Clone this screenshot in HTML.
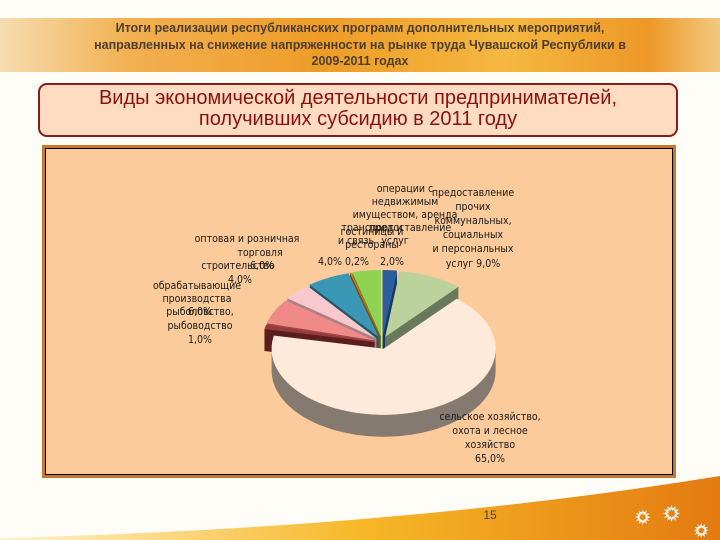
<!DOCTYPE html>
<html><head><meta charset="utf-8"><style>
body{margin:0;width:720px;height:540px;overflow:hidden;background:#fffdf8;font-family:"Liberation Sans",sans-serif;position:relative}
.hdr{position:absolute;left:0;top:18px;width:720px;height:54px;background:linear-gradient(90deg,#f5dcb0 0%,#f2b050 18%,#ee9c28 45%,#f4b840 70%,#ee9828 90%,#f2c880 100%)}
.hdr div{text-align:center;font-weight:bold;font-size:12.5px;color:#4e3e30;line-height:16.5px;padding-top:2px}
.tbox{position:absolute;left:38px;top:83px;width:636px;height:47px;background:#fddcc2;border:2px solid #8b1a1a;border-radius:9px;text-align:center;color:#8b1010;font-size:20px;line-height:21px;padding-top:3px}
.frame{position:absolute;left:42px;top:145px;width:628px;height:327px;background:#fccb9b;border:3px solid #c8782a;box-shadow:inset 0 0 0 1px #000}
svg{position:absolute;left:0;top:0}
.lbl{font-family:"DejaVu Sans Condensed","DejaVu Sans",sans-serif;font-size:10.5px;fill:#1a1a1a}
</style></head><body>
<div class="hdr"><div>Итоги реализации республиканских программ дополнительных мероприятий,<br>направленных на снижение напряженности на рынке труда Чувашской Республики в<br>2009-2011 годах</div></div>
<div class="tbox">Виды экономической деятельности предпринимателей,<br>получивших субсидию в 2011 году</div>
<div class="frame"></div>
<svg width="720" height="540" id="chart">
<defs><linearGradient id="sw" x1="0" x2="1" y1="0" y2="0"><stop offset="0" stop-color="#fff3d0"/><stop offset="0.5" stop-color="#f6b828"/><stop offset="1" stop-color="#e47a10"/></linearGradient></defs>
<path d="M0,538 Q400,528 720,476 L720,540 L0,540 Z" fill="url(#sw)"/>
<text x="490" y="519" font-size="12" fill="#444" text-anchor="middle">15</text>
<text x="636" y="523" font-size="16" fill="none" stroke="#fff" stroke-width="1.1">✹</text>
<text x="664" y="520" font-size="18" fill="none" stroke="#fff" stroke-width="1.1">✹</text>
<text x="695" y="536" font-size="15" fill="none" stroke="#fff" stroke-width="1.1">✹</text>
<g id="pie"></g>
<g class="lbl">
<text x="405" y="192" text-anchor="middle">операции с</text>
<text x="405" y="205" text-anchor="middle">недвижимым</text>
<text x="405" y="218" text-anchor="middle">имуществом, аренда</text>
<text x="372" y="231" text-anchor="middle">транспорт и</text>
<text x="356" y="244" text-anchor="middle">и связь</text>
<text x="330" y="265" text-anchor="middle">4,0%</text>
<text x="372" y="235" text-anchor="middle">гостиницы и</text>
<text x="372" y="248" text-anchor="middle">рестораны</text>
<text x="357" y="265" text-anchor="middle">0,2%</text>
<text x="410" y="231" text-anchor="middle">предоставление</text>
<text x="395" y="244" text-anchor="middle">услуг</text>
<text x="392" y="265" text-anchor="middle">2,0%</text>
<text x="473" y="196" text-anchor="middle">предоставление</text>
<text x="473" y="210" text-anchor="middle">прочих</text>
<text x="473" y="224" text-anchor="middle">коммунальных,</text>
<text x="473" y="238" text-anchor="middle">социальных</text>
<text x="473" y="252" text-anchor="middle">и персональных</text>
<text x="473" y="267" text-anchor="middle">услуг 9,0%</text>
<text x="247" y="242" text-anchor="middle">оптовая и розничная</text>
<text x="260" y="256" text-anchor="middle">торговля</text>
<text x="262" y="269" text-anchor="middle">6,0%</text>
<text x="238" y="269" text-anchor="middle">строительство</text>
<text x="240" y="283" text-anchor="middle">4,0%</text>
<text x="197" y="289" text-anchor="middle">обрабатывающие</text>
<text x="197" y="302" text-anchor="middle">производства</text>
<text x="200" y="315" text-anchor="middle">6,0%</text>
<text x="200" y="315" text-anchor="middle">рыболовство,</text>
<text x="200" y="329" text-anchor="middle">рыбоводство</text>
<text x="200" y="343" text-anchor="middle">1,0%</text>
<text x="490" y="420" text-anchor="middle">сельское хозяйство,</text>
<text x="490" y="434" text-anchor="middle">охота и лесное</text>
<text x="490" y="448" text-anchor="middle">хозяйство</text>
<text x="490" y="462" text-anchor="middle">65,0%</text>
</g>
</svg>
<script>
const categories=["операции с недвижимым имуществом","прочие услуги","сельское хозяйство","рыболовство","обрабатывающие производства","строительство","торговля","гостиницы и рестораны","транспорт и связь"];
const values=[2,9,65,1,6,4,6,0.2,4];
const topColors=["#2c5d9c","#bcd29c","#fdeadb","#9a3a3a","#f08a88","#f7c9cc","#3a98b6","#e07a20","#8ed452"];
const sideColors=["#173a66","#68785a","#857a70","#5a1e1e","#a04a48","#a88286","#1e5a70","#8a4a10","#4e8a2a"];
const cx=382,cy=344,rx=112,ry=66,depth=22;
const total=values.reduce((a,b)=>a+b,0);
const g=document.getElementById('pie');
const NS="http://www.w3.org/2000/svg";
function pt(a,ox,oy,dy){return [cx+ox+rx*Math.cos(a),cy+oy+ry*Math.sin(a)+(dy||0)];}
let start=-Math.PI/2;
const slices=[];
values.forEach((v,i)=>{const sw=v/total*2*Math.PI;const a1=start,a2=start+sw;start=a2;
 const m=(a1+a2)/2;const ex=i===2?5:8;slices.push({i,a1,a2,m,ox:ex*Math.cos(m),oy:ex*Math.sin(m)});});
function mk(d,fill,name){const p=document.createElementNS(NS,'path');p.setAttribute('d',d);p.setAttribute('fill',fill);


g.appendChild(p);}
slices.slice().sort((a,b)=>Math.sin(a.m)-Math.sin(b.m)).forEach(s=>{
 const c=[cx+s.ox,cy+s.oy];const n=Math.max(4,Math.ceil((s.a2-s.a1)*40));
 [s.a1,s.a2].forEach(a=>{const e=pt(a,s.ox,s.oy);
  mk(`M${c[0]},${c[1]}L${e[0]},${e[1]}L${e[0]},${e[1]+depth}L${c[0]},${c[1]+depth}Z`,sideColors[s.i],'slice-wall-'+s.i);});
 const b1=Math.max(s.a1,0),b2=Math.min(s.a2,Math.PI);
 let segs=[[b1,b2]];
 if(s.a2>2*Math.PI){segs.push([2*Math.PI,Math.min(s.a2,3*Math.PI)]);}
 segs.forEach(([u,w])=>{if(w<=u)return;let d='';const k=Math.max(4,Math.ceil((w-u)*40));
  for(let j=0;j<=k;j++){const p=pt(u+(w-u)*j/k,s.ox,s.oy);d+=(j?'L':'M')+p[0]+','+p[1];}
  for(let j=k;j>=0;j--){const p=pt(u+(w-u)*j/k,s.ox,s.oy,depth);d+='L'+p[0]+','+p[1];}
  mk(d+'Z',sideColors[s.i],'slice-side-'+s.i);});
 let d=`M${c[0]},${c[1]}`;
 for(let j=0;j<=n;j++){const p=pt(s.a1+(s.a2-s.a1)*j/n,s.ox,s.oy);d+='L'+p[0]+','+p[1];}
 mk(d+'Z',topColors[s.i],'slice-'+s.i);
});
</script>
</body></html>
